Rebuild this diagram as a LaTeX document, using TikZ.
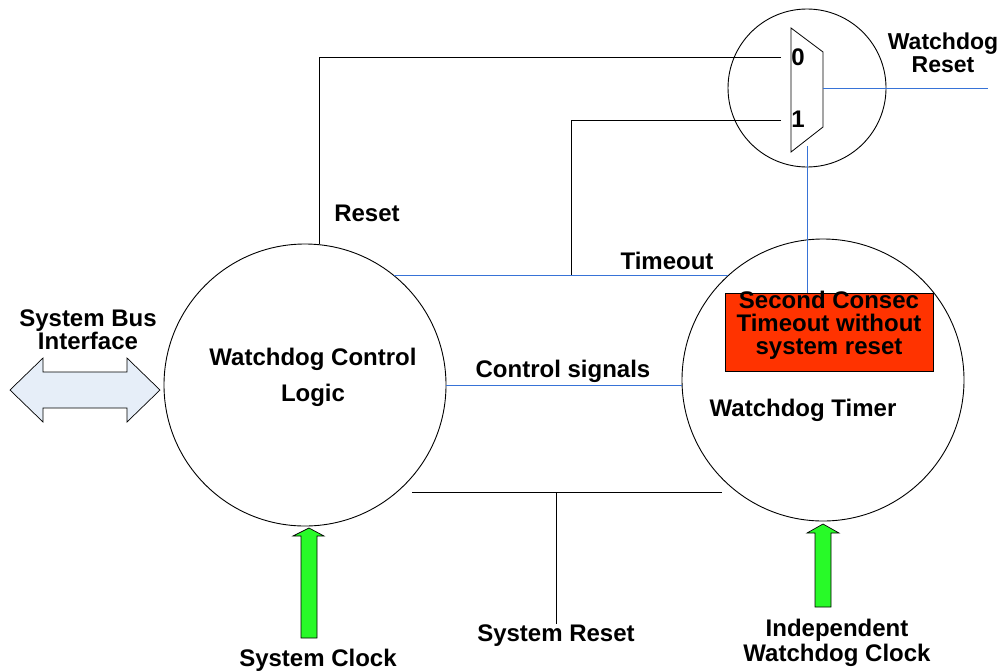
\documentclass[tikz,border=0pt]{standalone}
\usepackage{fontspec}
\setmainfont{Liberation Sans}
\usetikzlibrary{positioning, calc}
\definecolor{sigblue}{RGB}{55,115,215}
\definecolor{alarmred}{RGB}{255,51,0}
\definecolor{clkgreen}{RGB}{40,250,40}
\definecolor{busfill}{RGB}{230,238,248}

\begin{document}
\begin{tikzpicture}[
    x=1pt, y=-1pt, every node/.style={font=\fontsize{24}{23}\selectfont\bfseries},
    blob/.style={draw, circle, line width=0.9pt, minimum size=282pt, inner sep=0pt},
    lab/.style={align=center, inner sep=1pt},
    sig/.style={draw=sigblue, line width=1pt},
    wire/.style={draw, line width=0.8pt},
    fat/.style={draw, line width=0.7pt}
  ]
  \useasboundingbox (0,0) rectangle (1008,670);

  % Two blocks
  \node[blob] (ctl) at (305,385) {};
  \node[blob] (tmr) at (823,380) {};
  \node[lab, font=\fontsize{24}{36}\selectfont\bfseries] (ctltxt) at (313,377) {Watchdog Control\\Logic};
  \node[lab] (tmrtxt) at (803,410) {Watchdog Timer};
  \node[draw, fill=alarmred, line width=0.6pt, minimum width=208pt, minimum height=78pt] (alarm) at (829,332) {};
  \node[lab] (alarmtxt) at (829,325) {Second Consec\\Timeout without\\system reset};

  % Mux (top)
  \node[draw, circle, line width=0.9pt, minimum size=158pt, inner sep=0pt] (mux) at (807,88) {};
  \draw[wire] (791,28) -- (823,52) -- (823,127) -- (791,152) -- cycle;
  \node[inner sep=0pt] (m0) at (798,57) {0};
  \node[inner sep=0pt] (m1) at (798,119) {1};
  \coordinate (in0) at (781,57);
  \coordinate (in1) at (781,120);
  \coordinate (mout) at (823,88);
  \coordinate (msel) at (807,146);
  \coordinate (wdr) at (988,88);
  \node[lab, font=\fontsize{23}{23}\selectfont\bfseries] (wdrlab) at (943,53) {Watchdog\\Reset};

  % Wires
  \draw[wire] (in0) -| (ctl.84);
  \node[lab] (rstlab) at (367,213) {Reset};
  \coordinate (tjoin) at (571,275);
  \draw[wire] (in1) -| (tjoin);
  \draw[sig] (ctl.51) -- (ctl.51 -| tmr.132);
  \node[lab] (tolab) at (667,261) {Timeout};
  \draw[sig] (ctl.east) -- (ctl.east -| tmr.west);
  \node[lab] (cslab) at (563,371) {Control signals};
  \draw[sig] (mout) -- (wdr);
  \draw[sig] (msel) -- (alarm.north -| msel);

  % System reset (bottom)
  \coordinate (srl) at (412,492);
  \coordinate (srr) at (722,492);
  \coordinate (srj) at (556,492);
  \node[lab] (srlab) at (556,636) {System Reset};
  \draw[wire] (srl) -- (srr);
  \draw[wire] (srj) -- (srlab.north);

  % Bus and clocks
  \draw[fat, fill=busfill] (10,390) -- (43,358) -- (43,372) -- (127,372) -- (127,358) -- (160,390)
    -- (127,422) -- (127,408) -- (43,408) -- (43,422) -- cycle;
  \node[lab, font=\fontsize{24}{21}\selectfont\bfseries] (buslab) at (88,330) {System Bus\\Interface};
  \draw[fat, fill=clkgreen] (301,638) -- (301,536) -- (293,536) -- (309,528) -- (324,536)
    -- (317,536) -- (317,638) -- cycle;
  \node[lab] (sclab) at (318,660) {System Clock};
  \draw[fat, fill=clkgreen] (815,607) -- (815,533) -- (807,533) -- (823,524) -- (839,533)
    -- (831,533) -- (831,607) -- cycle;
  \node[lab, font=\fontsize{24}{25}\selectfont\bfseries] (wclab) at (837,643) {Independent\\Watchdog Clock};
\end{tikzpicture}
\end{document}
